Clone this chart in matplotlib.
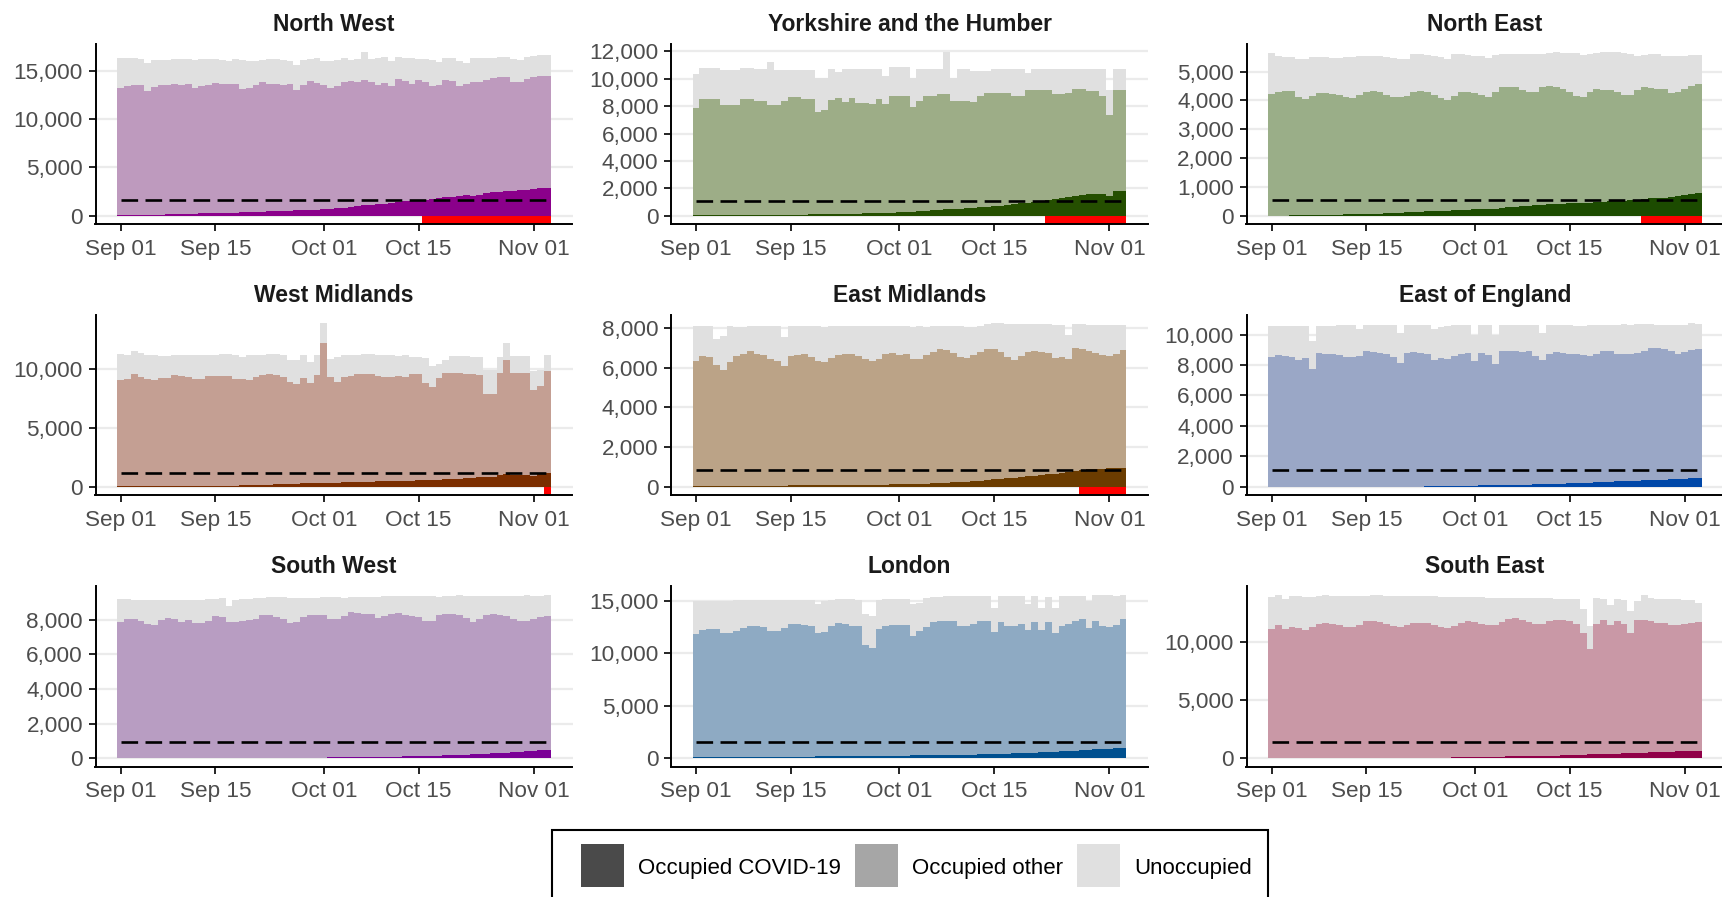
import numpy as np
import pandas as pd
import matplotlib
matplotlib.use('Agg')
import matplotlib.pyplot as plt
import matplotlib.dates as mdates
from matplotlib.patches import Patch, Rectangle
from matplotlib.legend_handler import HandlerBase
from matplotlib.ticker import FuncFormatter, MultipleLocator

plt.rcParams['font.family'] = 'Liberation Sans'

dates = pd.date_range('2020-09-01', '2020-11-03', freq='D')
tick_dates = pd.to_datetime(['2020-09-01', '2020-09-15', '2020-10-01', '2020-10-15', '2020-11-01'])

# --- North West ---
nw_beds = [16300, 16300, 16300, 16200, 15800, 16100, 16100, 16100, 16200, 16200,
           16200, 16100, 16200, 16200, 16200, 16100, 16000, 16200, 16100, 16000,
           16000, 16100, 16200, 16200, 16100, 16000, 15600, 16100, 16200, 16300,
           16000, 16000, 16100, 16300, 16100, 16200, 16900, 16200, 16300, 16400,
           16000, 16400, 16300, 16300, 16200, 16200, 16100, 15900, 16300, 16300,
           16000, 15800, 16300, 16300, 16300, 16300, 16400, 16400, 16200, 16100,
           16400, 16500, 16600, 16600]
nw_occupied = [13200, 13400, 13500, 13500, 12900, 13300, 13500, 13500, 13600, 13500,
               13600, 13200, 13400, 13500, 13700, 13600, 13600, 13600, 13100, 13200,
               13500, 13800, 13600, 13600, 13500, 13600, 13000, 13500, 13900, 13700,
               13500, 13200, 13400, 13800, 13900, 13800, 14000, 13800, 13500, 13700,
               13400, 14100, 13900, 13600, 14000, 13800, 13400, 13500, 14000, 13900,
               13400, 13600, 13800, 13800, 14000, 14200, 14300, 14300, 13800, 13800,
               14100, 14300, 14400, 14400]
nw_covid = [80, 90, 100, 100, 110, 120, 130, 150, 160, 180,
            200, 220, 240, 260, 280, 300, 320, 340, 360, 380,
            400, 420, 450, 480, 500, 520, 550, 580, 600, 630,
            660, 720, 780, 850, 920, 1000, 1080, 1120, 1180, 1250,
            1320, 1400, 1480, 1550, 1600, 1680, 1750, 1820, 1900, 1980,
            2060, 2100, 2000, 2200, 2350, 2450, 2500, 2550, 2600, 2620,
            2680, 2750, 2850, 2920]
nw_threshold = 1620

# --- Yorkshire and the Humber ---
yh_beds = [10330, 10800, 10800, 10800, 10670, 10670, 10670, 10800, 10800, 10700,
           10700, 11230, 10670, 10670, 10670, 10670, 10670, 10670, 10070, 10070,
           10750, 10500, 10750, 10750, 10750, 10750, 10750, 10750, 10200, 10850,
           10850, 10850, 10100, 10750, 10750, 10750, 10750, 11950, 10070, 10700,
           10700, 10550, 10550, 10550, 10700, 10700, 10700, 10700, 10700, 10450,
           10700, 10700, 10700, 10700, 10700, 10700, 10700, 10700, 10700, 10700,
           10700, 9170, 10700, 10700]
yh_occupied = [7850, 8520, 8520, 8500, 8100, 8100, 8100, 8500, 8500, 8400,
               8380, 8100, 8100, 8400, 8700, 8700, 8550, 8550, 7600, 7730,
               8450, 8600, 8330, 8600, 8250, 8250, 8150, 8500, 8200, 8750,
               8750, 8750, 7920, 8400, 8750, 8750, 8930, 8930, 8400, 8400,
               8400, 8330, 8750, 9000, 9000, 9000, 9000, 8770, 8770, 9220,
               9220, 9220, 9220, 8860, 8860, 9000, 9270, 9270, 9130, 9130,
               8750, 7360, 9170, 9200]
yh_covid = [60, 60, 60, 60, 60, 60, 60, 60, 60, 60,
            60, 60, 60, 70, 70, 80, 90, 100, 100, 110,
            120, 130, 140, 150, 160, 170, 180, 200, 220, 230,
            250, 270, 300, 330, 360, 420, 450, 480, 470, 500,
            550, 600, 630, 670, 700, 740, 800, 850, 900, 950,
            1020, 1080, 1150, 1220, 1300, 1400, 1480, 1520, 1560, 1600,
            1620, 1450, 1780, 1820]
yh_threshold = 1110

# --- North East ---
ne_beds = [5630, 5550, 5520, 5500, 5450, 5450, 5500, 5520, 5500, 5480,
           5480, 5500, 5520, 5550, 5550, 5530, 5530, 5500, 5470, 5450,
           5420, 5600, 5600, 5580, 5550, 5500, 5450, 5600, 5620, 5580,
           5550, 5550, 5480, 5580, 5600, 5600, 5600, 5600, 5620, 5620,
           5620, 5650, 5670, 5650, 5650, 5650, 5580, 5600, 5650, 5670,
           5670, 5670, 5650, 5600, 5550, 5570, 5600, 5600, 5550, 5550,
           5550, 5530, 5570, 5580]
ne_occupied = [4230, 4300, 4330, 4320, 4100, 4050, 4150, 4250, 4250, 4220,
               4200, 4100, 4080, 4200, 4300, 4320, 4300, 4200, 4100, 4120,
               4150, 4300, 4330, 4280, 4200, 4080, 4020, 4150, 4280, 4300,
               4250, 4200, 4120, 4280, 4450, 4480, 4470, 4350, 4280, 4300,
               4450, 4500, 4450, 4400, 4300, 4150, 4130, 4300, 4380, 4350,
               4350, 4300, 4200, 4200, 4350, 4450, 4420, 4380, 4400, 4250,
               4300, 4400, 4500, 4580]
ne_covid = [10, 10, 10, 20, 20, 20, 30, 30, 30, 40,
            40, 50, 50, 50, 60, 70, 80, 90, 100, 110,
            120, 130, 140, 150, 160, 170, 180, 190, 200, 210,
            220, 220, 230, 240, 280, 300, 320, 340, 350, 360,
            380, 400, 410, 420, 430, 440, 450, 460, 470, 480,
            500, 510, 520, 540, 555, 600, 620, 630, 630, 650,
            680, 710, 750, 800]
ne_threshold = 565

# --- West Midlands ---
wm_beds = [11250, 11200, 11500, 11350, 11200, 11200, 11150, 11100, 11200, 11200,
           11200, 11200, 11200, 11200, 11200, 11250, 11250, 11200, 11000, 11200,
           11200, 11200, 11300, 11300, 11200, 10800, 10800, 11200, 10600, 11200,
           13900, 10850, 11000, 11200, 11200, 11200, 11250, 11250, 11200, 11200,
           11200, 11100, 11200, 11000, 11000, 10900, 10300, 10400, 10800, 11100,
           11100, 11100, 11000, 11000, 9950, 9950, 11000, 12200, 11100, 11100,
           11100, 9800, 9900, 11200]
wm_occupied = [9100, 9200, 9550, 9300, 9150, 9100, 9250, 9250, 9500, 9400,
               9300, 9200, 9200, 9400, 9450, 9450, 9450, 9200, 9200, 9100,
               9300, 9500, 9550, 9500, 9350, 8900, 8750, 9250, 8800, 9500,
               12200, 9300, 8900, 9300, 9400, 9600, 9600, 9600, 9450, 9350,
               9350, 9450, 9350, 9600, 9550, 8850, 8500, 9250, 9650, 9700,
               9650, 9600, 9550, 9500, 7900, 7900, 9650, 10800, 9700, 9650,
               9650, 8250, 8600, 9850]
wm_covid = [50, 50, 50, 50, 50, 50, 50, 50, 60, 60,
            60, 70, 70, 80, 80, 90, 100, 110, 120, 130,
            150, 170, 190, 210, 230, 250, 270, 290, 310, 330,
            340, 350, 360, 380, 400, 420, 440, 450, 460, 470,
            480, 490, 500, 520, 540, 560, 580, 600, 630, 660,
            700, 730, 760, 800, 840, 870, 1000, 1060, 1000, 1020,
            1040, 950, 1080, 1200]
wm_threshold = 1150

# --- East Midlands ---
em_beds = [8100, 8100, 8100, 7450, 7600, 8100, 8050, 8050, 8100, 8100,
           8100, 8100, 8100, 7550, 8100, 8100, 8100, 8100, 8100, 8050,
           8100, 8100, 8100, 8100, 8100, 8100, 8100, 8100, 8100, 8100,
           8100, 8100, 8050, 8100, 8050, 8100, 8100, 8100, 8100, 8100,
           8080, 8050, 8100, 8200, 8250, 8250, 8200, 8200, 8200, 8200,
           8200, 8200, 8200, 8150, 8150, 7650, 8200, 8200, 8150, 8150,
           8150, 8150, 8150, 8150]
em_occupied = [6350, 6600, 6550, 6150, 5900, 6300, 6600, 6700, 6850, 6700,
               6650, 6450, 6350, 6100, 6600, 6650, 6700, 6550, 6350, 6300,
               6500, 6650, 6700, 6700, 6600, 6450, 6350, 6450, 6700, 6750,
               6650, 6700, 6450, 6450, 6650, 6800, 6950, 6900, 6750, 6550,
               6500, 6650, 6800, 6950, 6950, 6800, 6550, 6400, 6600, 6800,
               6850, 6800, 6750, 6500, 6550, 6450, 7000, 6950, 6850, 6750,
               6650, 6600, 6700, 6900]
em_covid = [40, 40, 40, 40, 40, 40, 40, 50, 50, 50,
            50, 50, 60, 60, 70, 70, 70, 80, 80, 80,
            90, 90, 90, 100, 100, 100, 100, 110, 110, 120,
            120, 130, 140, 150, 160, 170, 180, 200, 220, 240,
            260, 280, 310, 340, 370, 400, 430, 460, 500, 530,
            560, 600, 630, 670, 710, 750, 800, 850, 880, 900,
            920, 930, 950, 970]
em_threshold = 830

# --- East of England ---
ee_beds = [10550, 10550, 10550, 10550, 10550, 10550, 9550, 10550, 10550, 10550,
           10600, 10600, 10600, 10400, 10600, 10650, 10650, 10650, 10600, 10100,
           10650, 10650, 10650, 10650, 10350, 10500, 10550, 10600, 10600, 10600,
           10000, 10600, 10600, 9950, 10600, 10600, 10600, 10650, 10650, 10600,
           10100, 10600, 10600, 10600, 10600, 10550, 10550, 10600, 10600, 10600,
           10600, 10650, 10700, 10650, 10700, 10700, 10700, 10650, 10650, 10650,
           10650, 10650, 10750, 10700]
ee_occupied = [8550, 8650, 8600, 8550, 8350, 8450, 7750, 8800, 8750, 8700,
               8650, 8500, 8500, 8600, 8900, 8850, 8800, 8750, 8500, 8150,
               8800, 8850, 8800, 8750, 8350, 8450, 8400, 8600, 8750, 8800,
               8250, 8800, 8650, 8100, 8900, 8950, 8900, 8850, 8900, 8600,
               8300, 8750, 8850, 8800, 8750, 8750, 8650, 8600, 8750, 8950,
               8900, 8750, 8700, 8700, 8800, 8950, 9100, 9100, 9050, 8950,
               8750, 8850, 9000, 9050]
ee_covid = [10, 10, 10, 10, 10, 10, 10, 10, 10, 10,
            10, 10, 10, 10, 10, 10, 20, 20, 20, 20,
            20, 20, 20, 30, 30, 40, 50, 50, 60, 70,
            80, 90, 100, 100, 110, 120, 130, 140, 150, 160,
            170, 180, 190, 200, 220, 240, 260, 280, 300, 320,
            340, 360, 370, 390, 410, 430, 450, 470, 480, 500,
            520, 540, 560, 580]
ee_threshold = 1100

# --- South West ---
sw_beds = [9200, 9200, 9150, 9150, 9150, 9150, 9150, 9150, 9150, 9150,
           9150, 9150, 9150, 9200, 9200, 9250, 8800, 9150, 9200, 9200,
           9250, 9250, 9300, 9300, 9300, 9250, 9250, 9250, 9250, 9250,
           9300, 9300, 9300, 9250, 9300, 9300, 9300, 9300, 9300, 9350,
           9350, 9350, 9350, 9350, 9350, 9350, 9350, 9300, 9400, 9400,
           9450, 9400, 9400, 9350, 9350, 9350, 9350, 9400, 9350, 9350,
           9450, 9400, 9400, 9450]
sw_occupied = [7900, 8050, 8050, 7950, 7750, 7700, 8000, 8100, 8050, 7850,
               8000, 7800, 7800, 7950, 8200, 8150, 7900, 7900, 7950, 8000,
               8050, 8300, 8250, 8150, 8050, 7800, 7900, 8150, 8300, 8300,
               8250, 8050, 8050, 8200, 8450, 8400, 8350, 8350, 8100, 8200,
               8350, 8400, 8300, 8200, 8150, 7950, 7950, 8300, 8350, 8350,
               8300, 8100, 7900, 8050, 8250, 8350, 8300, 8200, 8050, 7950,
               7950, 8050, 8150, 8200]
sw_covid = [20, 20, 20, 20, 20, 20, 20, 20, 20, 20,
            20, 20, 20, 20, 20, 20, 20, 20, 20, 20,
            20, 20, 20, 20, 20, 30, 30, 30, 40, 40,
            40, 50, 50, 50, 60, 60, 70, 70, 80, 90,
            100, 100, 110, 120, 130, 140, 150, 160, 170, 180,
            200, 210, 230, 250, 270, 290, 310, 330, 350, 380,
            410, 440, 470, 500]
sw_threshold = 940

# --- London ---
ld_beds = [15000, 15000, 15000, 15000, 15000, 15000, 15050, 15050, 15100, 15100,
           15050, 15050, 15050, 15050, 15100, 15100, 15100, 15100, 14700, 15000,
           15100, 15150, 15150, 15150, 15100, 13750, 13550, 15100, 15150, 15150,
           15150, 15150, 14750, 14800, 15250, 15350, 15400, 15450, 15500, 15450,
           15450, 15450, 15450, 15450, 14350, 15450, 15450, 15450, 15450, 14750,
           15450, 14350, 15400, 14350, 15450, 15450, 15450, 15450, 15000, 15550,
           15550, 15550, 15500, 15600]
ld_occupied = [11850, 12200, 12350, 12300, 11950, 11950, 12100, 12450, 12600, 12650,
               12550, 12100, 12150, 12450, 12800, 12850, 12750, 12650, 11950, 12050,
               12600, 12900, 12800, 12650, 12600, 10800, 10500, 12300, 12600, 12700,
               12700, 12700, 11700, 12150, 12550, 12950, 13050, 13100, 13050, 12600,
               12600, 12800, 13050, 13050, 12050, 12950, 12600, 12650, 12800, 12200,
               13000, 12200, 13000, 11900, 12600, 12850, 13050, 13250, 12450, 13050,
               12650, 12550, 12700, 13300]
ld_covid = [120, 120, 120, 120, 130, 130, 130, 130, 140, 140,
            140, 150, 150, 150, 160, 160, 170, 170, 180, 180,
            190, 190, 200, 200, 210, 210, 220, 220, 230, 240,
            250, 260, 270, 280, 290, 300, 310, 320, 330, 340,
            350, 360, 370, 390, 400, 420, 440, 460, 480, 500,
            530, 560, 590, 620, 660, 700, 740, 780, 820, 860,
            900, 930, 960, 1000]
ld_threshold = 1550

# --- South East ---
se_beds = [13900, 14050, 13700, 13950, 13950, 13900, 13900, 13950, 14050, 14000,
           14000, 14000, 13950, 13950, 14000, 14050, 14050, 14000, 14000, 13950,
           14000, 14000, 13950, 13950, 13950, 13900, 13900, 13900, 13900, 13900,
           13900, 13900, 13850, 13850, 13850, 13850, 13850, 13850, 13850, 13850,
           13800, 13800, 13750, 13750, 13700, 13700, 12850, 11400, 13800, 13750,
           13200, 13700, 13650, 12700, 13550, 14100, 13800, 13750, 13700, 13700,
           13700, 13650, 13650, 13400]
se_occupied = [11150, 11500, 11100, 11300, 11200, 11050, 11300, 11550, 11700, 11550,
               11450, 11300, 11300, 11500, 11800, 11850, 11750, 11600, 11400, 11300,
               11500, 11650, 11700, 11650, 11500, 11300, 11200, 11400, 11700, 11850,
               11750, 11600, 11500, 11450, 11750, 12000, 12050, 11950, 11750, 11600,
               11600, 11850, 11950, 11900, 11850, 11600, 10800, 9450, 11600, 11900,
               11450, 11850, 11600, 10800, 11900, 11950, 11850, 11700, 11650, 11450,
               11500, 11600, 11700, 11750]
se_covid = [20, 20, 20, 20, 20, 20, 20, 20, 20, 20,
            30, 30, 40, 50, 50, 50, 60, 60, 60, 60,
            60, 70, 70, 70, 70, 70, 70, 80, 80, 80,
            80, 100, 120, 140, 150, 160, 170, 180, 190, 200,
            210, 220, 240, 260, 280, 300, 320, 330, 340, 360,
            380, 400, 420, 450, 470, 490, 510, 530, 550, 570,
            590, 610, 630, 650]
se_threshold = 1400

regions = [
    ('North West', nw_covid, nw_occupied, nw_beds, nw_threshold, 5000, '#8B008B', '#BE9ABE'),
    ('Yorkshire and the Humber', yh_covid, yh_occupied, yh_beds, yh_threshold, 2000, '#254F00', '#9DAD87'),
    ('North East', ne_covid, ne_occupied, ne_beds, ne_threshold, 1000, '#1C4B00', '#9AAE88'),
    ('West Midlands', wm_covid, wm_occupied, wm_beds, wm_threshold, 5000, '#7B2E00', '#C49F93'),
    ('East Midlands', em_covid, em_occupied, em_beds, em_threshold, 2000, '#6B3C00', '#BBA387'),
    ('East of England', ee_covid, ee_occupied, ee_beds, ee_threshold, 2000, '#0047A8', '#9AA7C6'),
    ('South West', sw_covid, sw_occupied, sw_beds, sw_threshold, 2000, '#7A0096', '#B89DC2'),
    ('London', ld_covid, ld_occupied, ld_beds, ld_threshold, 5000, '#00508F', '#8EAAC3'),
    ('South East', se_covid, se_occupied, se_beds, se_threshold, 5000, '#900048', '#C998A6'),
]

unocc_color = '#E0E0E0'
W, H = 1722, 897
fig = plt.figure(figsize=(W / 100, H / 100), dpi=100)

col_left = [95.5, 671, 1246.5]
row_bottom = [224, 495, 766.5]
ax_w, ax_h = 477, 180

# one-day bars: edges half a day either side of each date
x = mdates.date2num(dates)
edges = np.append(x - 0.5, x[-1] + 0.5)
x_pad = 0.05 * (edges[-1] - edges[0])

for k, (name, covid, occupied, beds, threshold, step, dark, light) in enumerate(regions):
    r, c = divmod(k, 3)
    ax = fig.add_axes([col_left[c] / W, 1 - row_bottom[r] / H, ax_w / W, ax_h / H])
    covid = np.asarray(covid, dtype=float)
    occupied = np.asarray(occupied, dtype=float)
    beds = np.asarray(beds, dtype=float)

    ax.stairs(covid, edges, baseline=0, fill=True, color=dark, lw=0)
    ax.stairs(occupied, edges, baseline=covid, fill=True, color=light, lw=0)
    ax.stairs(beds, edges, baseline=occupied, fill=True, color=unocc_color, lw=0)

    top = beds.max()
    y_lo, y_hi = -0.05 * top, 1.05 * top
    # red strip under the days where COVID occupancy is above the threshold
    over = covid > threshold
    ax.stairs(np.where(over, 0.0, y_lo), edges, baseline=y_lo, fill=True, color='#FF0000', lw=0)

    ax.plot(x, np.full(len(x), threshold), color='black', lw=1.9,
            linestyle=(0, (6.3, 2.8)))

    ax.set_xlim(edges[0] - x_pad, edges[-1] + x_pad)
    ax.set_ylim(y_lo, y_hi)
    ax.set_xticks(mdates.date2num(tick_dates))
    ax.xaxis.set_major_formatter(mdates.DateFormatter('%b %d'))
    ax.yaxis.set_major_locator(MultipleLocator(step))
    ax.yaxis.set_major_formatter(FuncFormatter(lambda v, p: f'{v:,.0f}'))

    ax.set_axisbelow(True)
    ax.yaxis.grid(True, color='#EBEBEB', linewidth=1.6)
    for side in ['top', 'right']:
        ax.spines[side].set_visible(False)
    for side in ['left', 'bottom']:
        ax.spines[side].set_color('black')
        ax.spines[side].set_linewidth(1.4)
    ax.tick_params(axis='both', colors='black', labelcolor='#4D4D4D',
                   labelsize=16.2, length=5, width=1.2)
    ax.tick_params(axis='x', pad=5.5)
    ax.tick_params(axis='y', pad=4)
    ax.set_title(name, fontsize=16.5, fontweight='bold', color='#1A1A1A', pad=9.5)


class SquareKey(HandlerBase):
    """Legend key: a filled square centred on the label text."""
    def create_artists(self, legend, orig_handle, xdescent, ydescent, width, height,
                       fontsize, trans):
        side = 1.9 * fontsize
        mid = 0.36 * fontsize
        key = Rectangle((-xdescent, mid - side / 2), width, side,
                        facecolor=orig_handle.get_facecolor(), linewidth=0, transform=trans)
        return [key]


handles = [Patch(facecolor='#4A4A4A'), Patch(facecolor='#A6A6A6'), Patch(facecolor='#E0E0E0')]
labels = ['Occupied COVID-19', 'Occupied other', 'Unoccupied']
leg = fig.legend(handles, labels, loc='upper left', bbox_to_anchor=(581 / W, 1 - 850 / H),
                 borderaxespad=0, borderpad=0, ncol=3, fontsize=16, frameon=False,
                 handlelength=1.95, handleheight=1.9, handletextpad=0.62, columnspacing=0.63,
                 handler_map={Patch: SquareKey()})

# legend frame (runs off the bottom edge of the figure)
fig.patches.append(Rectangle((552 / W, 1 - 910 / H), 716 / W, 80 / H, transform=fig.transFigure,
                             fill=False, edgecolor='black', linewidth=1.5))

fig.savefig('out.png', dpi=100, facecolor='white')
